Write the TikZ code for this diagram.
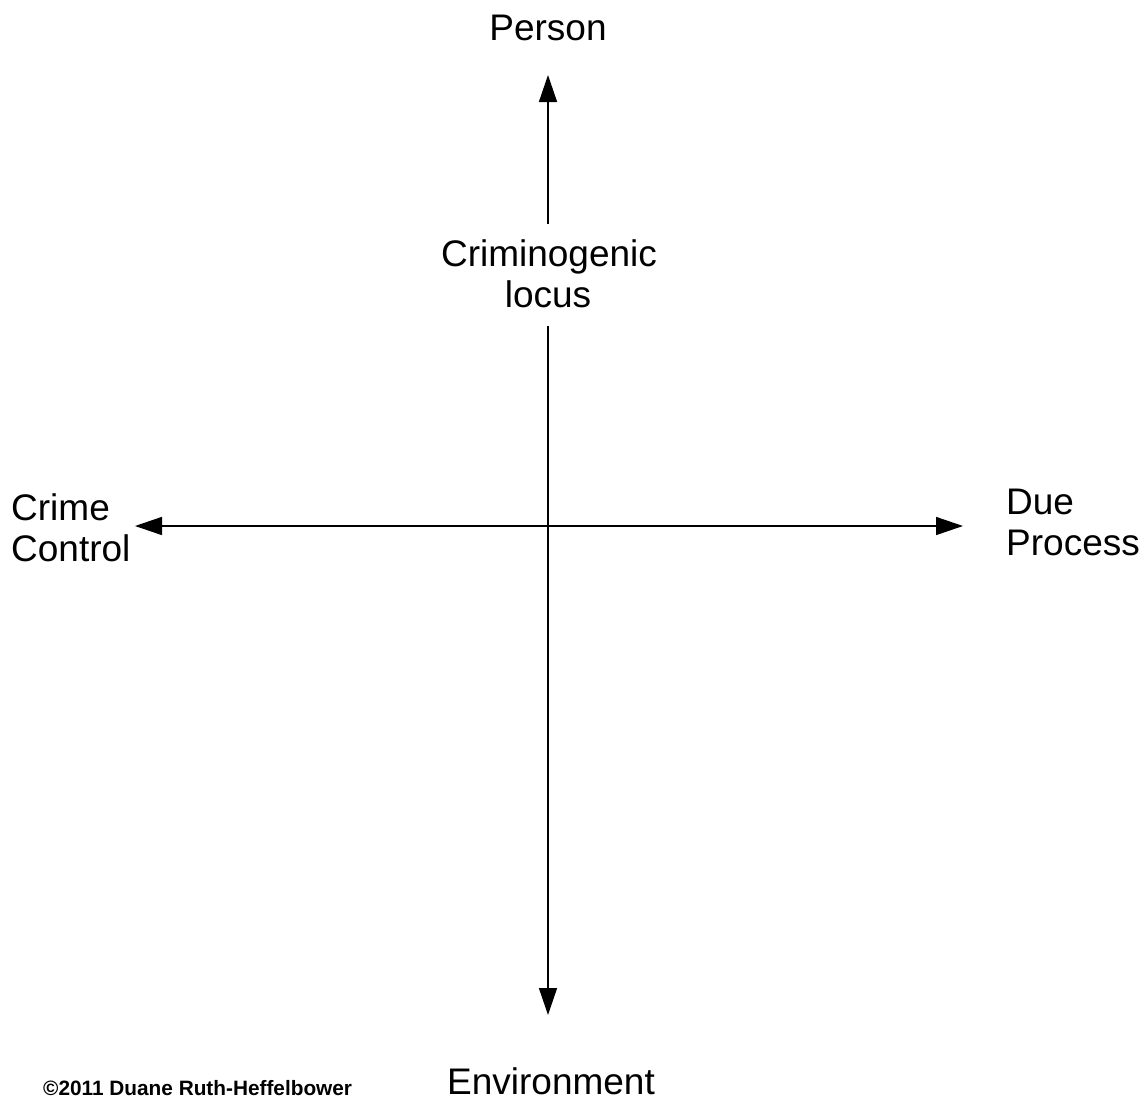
\documentclass[tikz,border=0pt]{standalone}
\usepackage{fontspec}
\setmainfont{Liberation Sans}
\usetikzlibrary{arrows.meta}
\begin{document}
\begin{tikzpicture}[x=1pt,y=-1pt,
  tipA/.tip={Triangle[length=27pt,width=18pt]},
  axisline/.style={line width=1.5pt,black},
  lbl/.style={inner sep=0pt,anchor=base,font=\fontsize{37}{41}\selectfont},
  lblw/.style={lbl,anchor=base west},
  copy/.style={inner sep=0pt,anchor=base west,font=\fontsize{20.8}{24}\selectfont\bfseries}]
\useasboundingbox[fill=white] (0,0) rectangle (1146,1103);
% coordinates
\coordinate (topTip) at (548,75);
\coordinate (botTip) at (548,1015);
\coordinate (leftTip) at (135,526);
\coordinate (rightTip) at (963,526);
\coordinate (gapTop) at (548,224);
\coordinate (gapBot) at (548,326);
% axes
\draw[axisline,-tipA] (gapTop) -- (topTip);
\draw[axisline,-tipA] (gapBot) -- (botTip);
\draw[axisline,tipA-tipA] (leftTip) -- (rightTip);
% labels
\node[lbl] (person) at (548,40) {Person};
\node[lbl] (crimA) at (549,266) {Criminogenic};
\node[lbl] (crimB) at (548,307) {locus};
\node[lblw] (ccA) at (11,520) {Crime};
\node[lblw] (ccB) at (11,561) {Control};
\node[lblw] (dpA) at (1006,514) {Due};
\node[lblw] (dpB) at (1006,555) {Process};
\node[lbl] (env) at (551,1094) {Environment};
\node[copy] (cr) at (43,1095) {©2011 Duane Ruth-Heffelbower};
\end{tikzpicture}
\end{document}
